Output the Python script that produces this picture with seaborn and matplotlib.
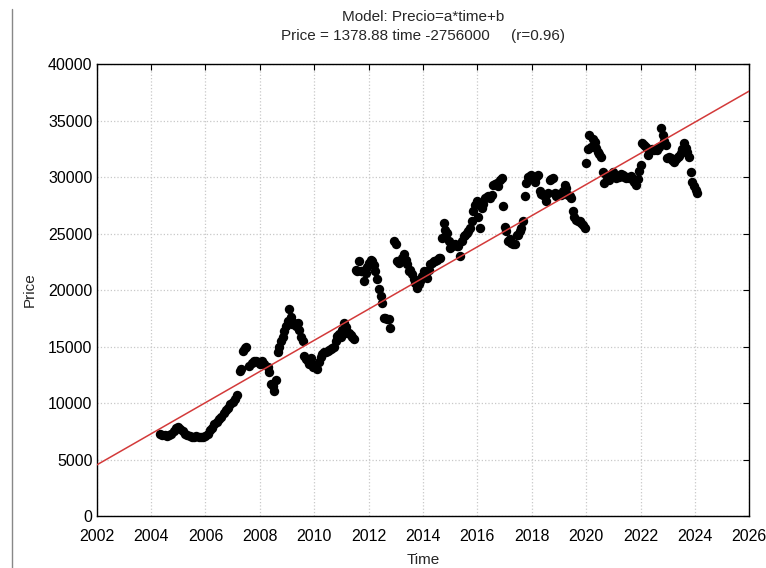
import matplotlib
matplotlib.use("Agg")
import matplotlib.pyplot as plt
import seaborn as sns
import pandas as pd
import numpy as np

# decimal year and price
time = [
    2004.33, 2004.42, 2004.50, 2004.58, 2004.67, 2004.75, 2004.83, 2004.92, 2005.00, 2005.08,
    2005.17, 2005.25, 2005.33, 2005.42, 2005.50, 2005.58, 2005.67, 2005.75, 2005.83, 2005.92,
    2006.00, 2006.08, 2006.17, 2006.25, 2006.33, 2006.42, 2006.50, 2006.58, 2006.67, 2006.75,
    2006.83, 2006.92, 2007.00, 2007.08, 2007.17,
    2007.26, 2007.32, 2007.38, 2007.44, 2007.50, 2007.62, 2007.70, 2007.78, 2007.86, 2007.94,
    2007.99, 2008.08, 2008.17, 2008.29, 2008.35, 2008.41, 2008.47, 2008.53, 2008.59,
    2008.66, 2008.72, 2008.78, 2008.84, 2008.90, 2008.97, 2009.03, 2009.09, 2009.15, 2009.20,
    2009.27, 2009.33, 2009.39, 2009.45, 2009.51, 2009.57, 2009.63, 2009.70, 2009.76, 2009.82,
    2009.88, 2009.94, 2010.00, 2010.06, 2010.12, 2010.18, 2010.24, 2010.30, 2010.36, 2010.42,
    2010.49, 2010.55, 2010.61, 2010.67, 2010.73, 2010.79, 2010.85, 2010.91, 2010.97, 2011.03,
    2011.10, 2011.16, 2011.22, 2011.28, 2011.34, 2011.40, 2011.46,
    2011.53, 2011.59, 2011.65, 2011.71, 2011.77, 2011.83, 2011.89, 2011.95, 2012.01, 2012.07,
    2012.14, 2012.20, 2012.25, 2012.32, 2012.38, 2012.44, 2012.50, 2012.56, 2012.62, 2012.68,
    2012.74, 2012.80,
    2012.93, 2012.99, 2013.05, 2013.11, 2013.17, 2013.23, 2013.29, 2013.36, 2013.42, 2013.48,
    2013.54, 2013.60, 2013.66, 2013.72, 2013.78, 2013.84, 2013.90, 2013.96, 2014.02, 2014.08,
    2014.15, 2014.21, 2014.27, 2014.33, 2014.39, 2014.45, 2014.51, 2014.58, 2014.64, 2014.70,
    2014.76, 2014.82, 2014.88, 2014.94, 2015.00, 2015.06, 2015.12, 2015.18, 2015.25, 2015.30,
    2015.36, 2015.43, 2015.49, 2015.55, 2015.61, 2015.67, 2015.73, 2015.79, 2015.85, 2015.92,
    2015.98, 2016.04, 2016.10, 2016.16, 2016.22, 2016.28, 2016.34, 2016.40, 2016.46, 2016.52,
    2016.58, 2016.64, 2016.71, 2016.77, 2016.83, 2016.89, 2016.95, 2017.01, 2017.07, 2017.13,
    2017.19, 2017.25, 2017.32, 2017.38, 2017.44, 2017.50, 2017.56, 2017.62, 2017.68, 2017.74,
    2017.80, 2017.86, 2017.92, 2017.99, 2018.05, 2018.11, 2018.17, 2018.23, 2018.29, 2018.35,
    2018.41, 2018.47, 2018.54, 2018.60, 2018.66, 2018.72, 2018.78, 2018.84, 2018.90, 2018.97,
    2019.03, 2019.09, 2019.15, 2019.21, 2019.27, 2019.33, 2019.39, 2019.45, 2019.51, 2019.57,
    2019.64, 2019.70, 2019.76, 2019.82, 2019.88, 2019.94,
    2020.00, 2020.06, 2020.12, 2020.18, 2020.25, 2020.31, 2020.37, 2020.43, 2020.49, 2020.55,
    2020.61, 2020.67, 2020.73, 2020.79, 2020.85, 2020.91, 2020.97, 2021.03, 2021.10, 2021.16,
    2021.22, 2021.28, 2021.34, 2021.40, 2021.46, 2021.52, 2021.59, 2021.65, 2021.71, 2021.77,
    2021.83, 2021.89, 2021.95, 2022.01, 2022.07, 2022.13, 2022.20, 2022.26, 2022.32, 2022.38,
    2022.44, 2022.50, 2022.56, 2022.62, 2022.68, 2022.75, 2022.81, 2022.87, 2022.93, 2022.99,
    2023.05, 2023.11, 2023.17, 2023.23, 2023.30, 2023.36, 2023.42, 2023.48, 2023.54, 2023.60,
    2023.66, 2023.72, 2023.78, 2023.84, 2023.90, 2023.96, 2024.03, 2024.09,
]
price = [
    7300, 7200, 7150, 7100, 7200, 7300, 7500, 7800, 7900, 7700,
    7500, 7300, 7200, 7100, 7000, 7000, 7100, 7000, 6950, 7000,
    7100, 7300, 7600, 7800, 8100, 8300, 8600, 8800, 9100, 9400,
    9600, 9900, 10100, 10400, 10700,
    12860, 13000, 14630, 14900, 15000, 13300, 13500, 13700, 13740, 13600,
    13450, 13700, 13450, 13150, 12715, 11690, 11500, 11100, 12000,
    14480, 15000, 15500, 15800, 16390, 16800, 17270, 18300, 17600, 16980,
    17100, 16830, 17120, 16500, 15800, 15500, 14190, 13900, 13740, 13450,
    14000, 13150, 13400, 13150, 13010, 13600, 14040, 14300, 14480, 14500,
    14630, 14700, 14770, 14850, 14920, 15500, 15950, 16100, 15800, 16500,
    17120, 16700, 16240, 16200, 16000, 15800, 15660,
    21800, 21670, 22550, 21700, 21670, 20790, 21500, 22000, 22400, 22700,
    22550, 22200, 21670, 21000, 20060, 19500, 18880, 17500, 17560, 17400,
    17420, 16680,
    24320, 24100, 22550, 22400, 22550, 22800, 23150, 22700, 22260, 21670,
    21800, 21380, 20940, 20600, 20200, 20500, 20800, 21200, 21670, 21500,
    21090, 21800, 22260, 22400, 22550, 22600, 22700, 22800, 22850, 24610,
    25930, 25350, 25050, 24300, 23730, 23880, 24000, 24030, 23880, 23880,
    23000, 24320, 24760, 24900, 25050, 25200, 25500, 26080, 26960, 27500,
    27840, 26500, 25490, 27250, 27600, 28130, 28200, 28280, 28100, 28400,
    29310, 29400, 29450, 29200, 29700, 29900, 27400, 25600, 25200, 24320,
    24500, 24170, 24030, 24030, 24910, 24910, 25200, 25500, 26080, 28280,
    29500, 30040, 30100, 30190, 29800, 29600, 30000, 30190, 28720, 28500,
    28430, 28300, 27840, 28600, 29750, 29800, 29900, 28570, 28280, 28500,
    28500, 28430, 28800, 29310, 29000, 28430, 28300, 28130, 26960, 26500,
    26230, 26150, 26080, 25900, 25780, 25490,
    31210, 32500, 33710, 32690, 33400, 33130, 32540, 32250, 32000, 31810,
    30480, 29450, 30190, 29800, 29750, 30200, 30480, 30300, 29900, 30100,
    30000, 30300, 30190, 30000, 29900, 30000, 29900, 30100, 29750, 29600,
    29310, 29800, 30500, 31070, 32980, 32800, 32690, 31960, 32300, 32400,
    32500, 32400, 32500, 32400, 32700, 34300, 33710, 33200, 32840, 31660,
    31800, 31660, 31500, 31370, 31600, 31810, 31900, 32100, 32500, 32980,
    32540, 32200, 31810, 30480, 29600, 29200, 28870, 28570,
]

# fitted model from the title
slope = 1378.88
intercept = -2756000
x_ticks = list(range(2002, 2027, 2))
y_ticks = list(range(0, 40001, 5000))

df = pd.DataFrame({'Time': time, 'Price': price})

sns.set_style('white')
plt.rcParams['font.family'] = ['Liberation Sans', 'DejaVu Sans']

fig = plt.figure(figsize=(7.66, 5.68), dpi=100)
ax = fig.add_axes([0.1262, 0.0915, 0.852, 0.7958])

sns.scatterplot(data=df, x='Time', y='Price', ax=ax, color='black',
                s=46, edgecolor='black', linewidth=0, zorder=3)

x_line = np.array([x_ticks[0], x_ticks[-1]])
sns.lineplot(x=x_line, y=slope * x_line + intercept, ax=ax,
             color='#d33a3a', linewidth=1.1, zorder=4)

ax.set_xlim(x_ticks[0], x_ticks[-1])
ax.set_ylim(y_ticks[0], y_ticks[-1])
ax.set_xticks(x_ticks)
ax.set_yticks(y_ticks)
ax.grid(True, color='#c8c8c8', linestyle=':', linewidth=0.9)
ax.tick_params(direction='in', length=4, width=0.8, labelsize=11.5,
               top=True, right=True, colors='black')
ax.tick_params(axis='x', pad=9)
ax.tick_params(axis='y', pad=3)
for sp in ax.spines.values():
    sp.set_color('black')
    sp.set_linewidth(1.0)

ax.set_xlabel('Time', fontsize=11, labelpad=7)
ax.set_ylabel('Price', fontsize=11, labelpad=8)
ax.set_title('Model: Precio=a*time+b\nPrice = 1378.88 time -2756000     (r=0.96)',
             fontsize=11, linespacing=1.5, pad=17)

# thin border at the left edge of the screenshot
fig.add_artist(plt.Line2D([0.0153, 0.0153], [0.0, 0.985], color='#888888',
                          linewidth=1.0, transform=fig.transFigure))

fig.savefig('out.png', dpi=100)
